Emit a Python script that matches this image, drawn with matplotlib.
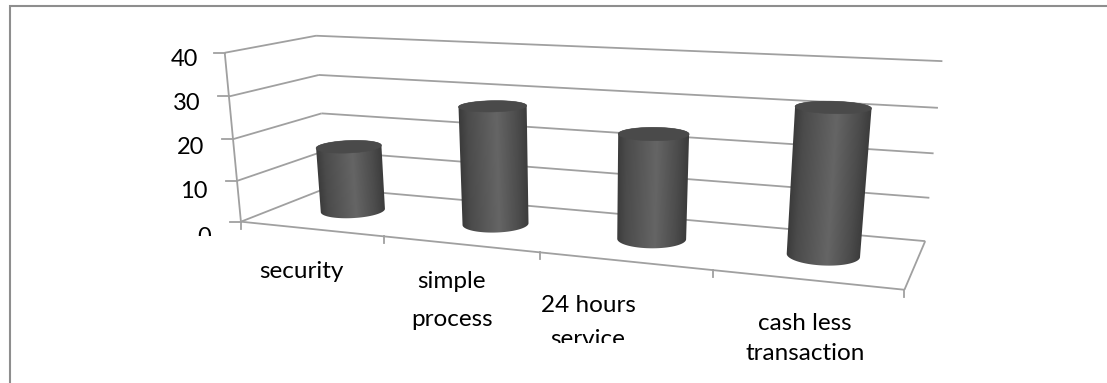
import numpy as np
import matplotlib
matplotlib.use("Agg")
import matplotlib.pyplot as plt
from matplotlib.colors import LinearSegmentedColormap
from matplotlib.patches import Polygon, Rectangle

# Chart data
categories = ["security", "simple\nprocess", "24 hours\nservice", "cash less\ntransaction"]
values = [16, 28, 24, 32]
value_ticks = [0, 10, 20, 30, 40]

GRID = "#a0a0a0"
FRAME = "#8e8e8e"
TEXT = "#000000"
plt.rcParams["font.family"] = ["Lato", "DejaVu Sans"]

W, H = 1107, 383

# Perspective camera for the 3D plot box, in figure pixels.
# Box coordinates: (category position, depth, value).
camera_anchors = [
    ((0, 0, 40), (225, 52.7)), ((0, 0, 30), (228.6, 96)), ((0, 0, 20), (233, 139)),
    ((0, 0, 10), (237.5, 180.7)), ((0, 0, 0), (241, 222.7)),
    ((0, 1, 40), (316, 35)), ((0, 1, 30), (319, 75)), ((0, 1, 20), (321.4, 113.7)),
    ((4, 1, 40), (942, 61.7)), ((4, 1, 30), (938, 108.3)), ((4, 1, 20), (934, 154)),
    ((4, 1, 10), (929.6, 197.7)), ((4, 1, 0), (925, 240)),
    ((1, 0, 0), (384, 236)), ((2, 0, 0), (539, 253)), ((3, 0, 0), (712, 271)),
    ((4, 0, 0), (905.4, 288.3)),
]


def fit_camera(anchors):
    rows = []
    for (u, v, z), (px, py) in anchors:
        X = [u, v, z / 40, 1]
        x, y = px / 1000, py / 1000
        rows.append(X + [0, 0, 0, 0] + [-x * c for c in X])
        rows.append([0, 0, 0, 0] + X + [-y * c for c in X])
    return np.linalg.svd(np.array(rows))[2][-1].reshape(3, 4)


CAM = fit_camera(camera_anchors)


def project(u, v, z):
    u, v, z = np.broadcast_arrays(u, v, z)
    X = np.stack([u, v, z / 40, np.ones_like(u, dtype=float)])
    p = CAM @ X
    return p[0] / p[2] * 1000, p[1] / p[2] * 1000


def segment(ax, a, b, lw=1.3, color=GRID):
    x, y = project(np.array([a[0], b[0]], float), np.array([a[1], b[1]], float),
                   np.array([a[2], b[2]], float))
    ax.plot(x, y, color=color, lw=lw, solid_capstyle="butt", zorder=2)


def convex_hull(points):
    pts = sorted(set(map(tuple, points)))

    def half(seq):
        out = []
        for p in seq:
            while len(out) > 1 and ((out[-1][0] - out[-2][0]) * (p[1] - out[-2][1])
                                    - (out[-1][1] - out[-2][1]) * (p[0] - out[-2][0])) <= 0:
                out.pop()
            out.append(p)
        return out[:-1]

    return np.array(half(pts) + half(pts[::-1]))


# Dark edges with a soft highlight just right of the axis
body_cmap = LinearSegmentedColormap.from_list(
    "cylinder",
    [(0.0, "#3c3c3c"), (0.12, "#4b4b4b"), (0.55, "#656565"), (0.85, "#4c4c4c"), (1.0, "#3c3c3c")],
)


def cylinder(ax, u0, height, ru=0.2, rv=0.21):
    th = np.linspace(0, 2 * np.pi, 181)
    cu, cv = u0 + ru * np.cos(th), 0.5 + rv * np.sin(th)
    bx, by = project(cu, cv, 0.0)
    tx, ty = project(cu, cv, float(height))
    hull = convex_hull(np.column_stack([np.r_[bx, tx], np.r_[by, ty]]))

    # The shading follows the leaning silhouette, so each row is scaled
    # between the left and right tangent lines of the two end circles.
    il, ib = np.argmin(bx), np.argmin(tx)
    jl, jb = np.argmax(bx), np.argmax(tx)
    x0, x1 = hull[:, 0].min() - 1, hull[:, 0].max() + 1
    y0, y1 = hull[:, 1].min() - 1, hull[:, 1].max() + 1
    xs = np.linspace(x0, x1, int((x1 - x0) * 2))
    ys = np.linspace(y0, y1, int((y1 - y0) * 2))
    gx, gy = np.meshgrid(xs, ys)
    left = bx[il] + (gy - by[il]) * (tx[ib] - bx[il]) / (ty[ib] - by[il])
    right = bx[jl] + (gy - by[jl]) * (tx[jb] - bx[jl]) / (ty[jb] - by[jl])
    t = np.clip((gx - left) / (right - left), 0, 1)
    im = ax.imshow(t, extent=(x0, x1, y1, y0), cmap=body_cmap, vmin=0, vmax=1,
                   interpolation="bilinear", aspect="auto", zorder=4)
    im.set_clip_path(Polygon(hull, closed=True, transform=ax.transData))
    ax.add_patch(Polygon(np.column_stack([tx, ty]), closed=True, facecolor="#4a4a4a",
                         edgecolor="#4a4a4a", lw=0.4, zorder=5))


fig = plt.figure(figsize=(W / 100, H / 100), dpi=100, facecolor="white")
ax = fig.add_axes([0, 0, 1, 1])

# Outer chart frame: top and left edges
ax.plot([10, 10, W], [H, 5.6, 5.6], color=FRAME, lw=1.5, zorder=1, solid_joinstyle="miter")

n = len(categories)
for z in value_ticks:
    if z > 0:
        segment(ax, (0, 0, z), (0, 1, z))
    segment(ax, (0, 1, z), (n, 1, z))
    x, y = project(0.0, 0.0, float(z))
    ax.plot([x - 11, x], [y, y], color=GRID, lw=1.3, zorder=2)

# Floor outline and the front vertical axis
segment(ax, (0, 0, 0), (0, 1, 0))
segment(ax, (n, 1, 0), (n, 0, 0))
segment(ax, (0, 0, 0), (n, 0, 0))
segment(ax, (0, 0, 0), (0, 0, value_ticks[-1]))
for u in range(n + 1):
    x, y = project(float(u), 0.0, 0.0)
    ax.plot([x, x], [y, y + 7], color=GRID, lw=1.3, zorder=2)

for i, val in enumerate(values):
    cylinder(ax, i + 0.5, val)

ax.set_xlim(0, W)
ax.set_ylim(H, 0)
ax.axis("off")

VALUE_FS = 17
LABEL_FS = 17.5
# Value labels; the lowest one is cut off by the plot area
value_label_pos = {40: (198, 59), 30: (201, 104), 20: (204, 148), 10: (208, 192), 0: (211, 238)}
for z, (x, y) in value_label_pos.items():
    t = ax.text(x, y, str(z), ha="right", va="center", fontsize=VALUE_FS, color=TEXT)
    t.set_clip_path(Rectangle((0, 0), W, 235.5, transform=ax.transData))
    t.set_clip_on(True)

# Category labels, placed per line because each wraps separately
label_pos = [[(301, 272)], [(451, 281), (452, 319)], [(588, 305), (588, 339)], [(805, 323), (805, 353)]]
for cat, lines in zip(categories, label_pos):
    for text, (x, y) in zip(cat.split("\n"), lines):
        t = ax.text(x, y, text, ha="center", va="center", fontsize=LABEL_FS, color=TEXT)
        if text == "service":
            t.set_clip_path(Rectangle((0, 0), W, 342.5, transform=ax.transData))
            t.set_clip_on(True)

fig.savefig("out.png", dpi=100, facecolor="white")
